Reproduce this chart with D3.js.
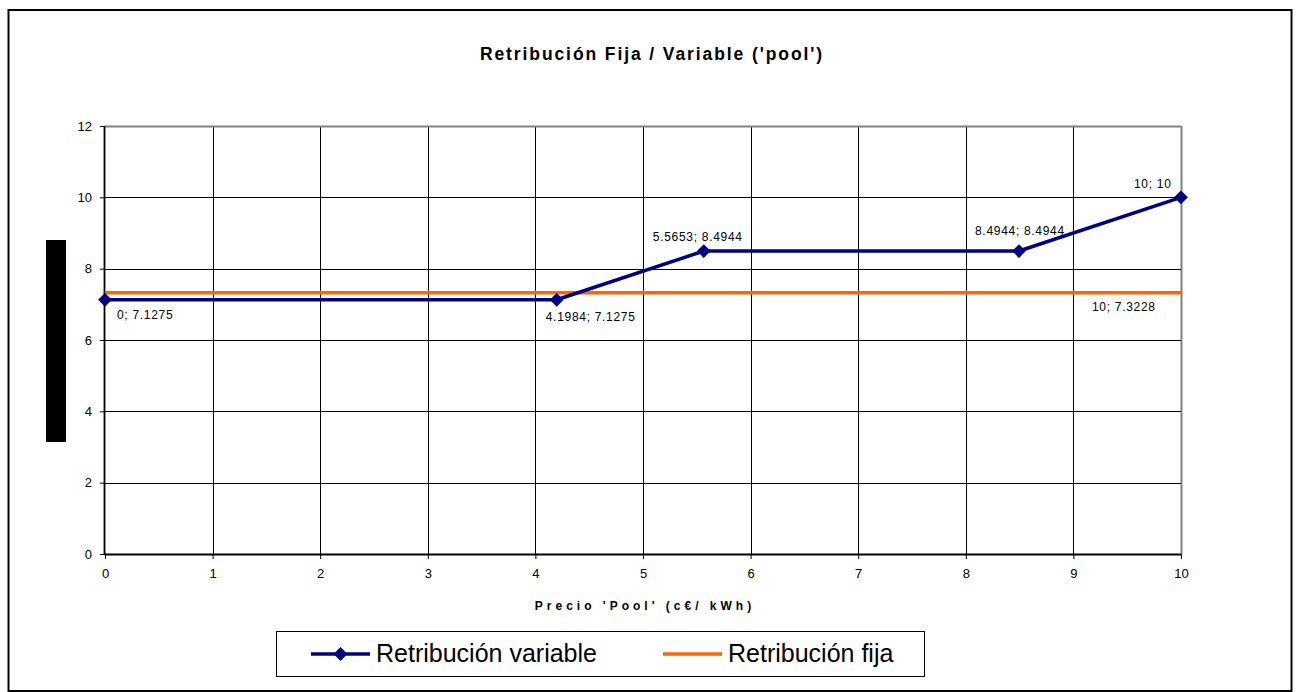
<!DOCTYPE html>
<html>
<head>
<meta charset="utf-8">
<script src="https://cdn.jsdelivr.net/npm/d3@7"></script>
<style>
  html, body { margin: 0; padding: 0; background: #fff; }
  svg { display: block; }
  text { font-family: "Liberation Sans", Arial, sans-serif; fill: #000; }
</style>
</head>
<body>
<svg id="chart" width="1298" height="692"></svg>
<script>
// ---- data ----
const chartTitle = "Retribución Fija / Variable ('pool')";
const xAxisTitle = "Precio 'Pool' (c€/ kWh)";
const seriesNames = ["Retribución variable", "Retribución fija"];
const variableX = [0, 4.1984, 5.5653, 8.4944, 10];
const variableY = [7.1275, 7.1275, 8.4944, 8.4944, 10];
const fixedX = [0, 10];
const fixedY = [7.3228, 7.3228];
const xTicks = [0, 1, 2, 3, 4, 5, 6, 7, 8, 9, 10];
const yTicks = [0, 2, 4, 6, 8, 10, 12];

// ---- label placement (pixel offsets from the point, not data) ----
const variableLabelOffsets = [[12, 19], [-11, 21], [-51, -10], [-44, -16], [-47, -9]];
const fixedLabelOffsets = [null, [-89, 18]];

const navy = "#000080", orange = "#FF6600";
const svg = d3.select("#chart");

// outer frame
svg.append("rect").attr("x", 8.5).attr("y", 10).attr("width", 1283).attr("height", 681)
  .attr("fill", "#fff").attr("stroke", "#000").attr("stroke-width", 2);

const x = d3.scaleLinear().domain([0, 10]).range([105, 1181]);
const y = d3.scaleLinear().domain([0, 12]).range([554, 126]);

// title
svg.append("text").attr("x", 652).attr("y", 60).attr("text-anchor", "middle")
  .attr("font-size", 17.5).attr("font-weight", "bold").attr("letter-spacing", "1.9px")
  .text(chartTitle);

// grid
const grid = svg.append("g");
grid.selectAll("line.v").data(xTicks.filter(d => d > 0)).join("line")
  .attr("x1", d => Math.round(x(d)) + 0.5).attr("x2", d => Math.round(x(d)) + 0.5)
  .attr("y1", y(12)).attr("y2", y(0))
  .attr("stroke", d => d === 10 ? "#808080" : "#000").attr("stroke-width", d => d === 10 ? 2 : 1);
grid.selectAll("line.h").data(yTicks.filter(d => d > 0)).join("line")
  .attr("y1", d => Math.round(y(d)) + 0.5).attr("y2", d => Math.round(y(d)) + 0.5)
  .attr("x1", x(0)).attr("x2", x(10))
  .attr("stroke", d => d === 12 ? "#808080" : "#000").attr("stroke-width", d => d === 12 ? 2 : 1);

// axes
const yAxis = svg.append("g").attr("transform", `translate(${x(0)},0)`)
  .call(d3.axisLeft(y).tickValues(yTicks).tickSize(5).tickPadding(8).tickFormat(d3.format("d")));
const xAxis = svg.append("g").attr("transform", `translate(0,${y(0)})`)
  .call(d3.axisBottom(x).tickValues(xTicks).tickSize(5).tickPadding(10).tickFormat(d3.format("d")));
[xAxis, yAxis].forEach(g => {
  g.select(".domain").attr("stroke", "#000").attr("stroke-width", 1.8);
  g.selectAll(".tick line").attr("stroke", "#000");
  g.selectAll(".tick text").attr("font-size", 13).attr("font-family", '"Liberation Sans", Arial, sans-serif').attr("fill", "#000");
});
xAxis.select(".domain").attr("d", `M${x(0)},0.5H${x(10)}`);
yAxis.select(".domain").attr("d", `M-0.5,${y(0)}V${y(12)}`);

// y axis title block (rendered as a black bar in the reference)
svg.append("rect").attr("x", 46).attr("y", 240).attr("width", 20).attr("height", 202).attr("fill", "#000");

// x axis title
svg.append("text").attr("x", 645).attr("y", 610).attr("text-anchor", "middle")
  .attr("font-size", 12).attr("font-weight", "bold").attr("letter-spacing", "4px")
  .text(xAxisTitle);

// series
const line = d3.line().x(d => x(d[0])).y(d => y(d[1]));
const fixedPts = fixedX.map((v, i) => [v, fixedY[i]]);
const varPts = variableX.map((v, i) => [v, variableY[i]]);

svg.append("path").datum(fixedPts).attr("d", line).attr("fill", "none")
  .attr("stroke", orange).attr("stroke-width", 3.5);
svg.append("path").datum(varPts).attr("d", line).attr("fill", "none")
  .attr("stroke", navy).attr("stroke-width", 3.5).attr("stroke-linejoin", "round");

const diamond = d3.symbol(d3.symbolSquare, 95);
svg.selectAll("path.mk").data(varPts).join("path").attr("class", "mk")
  .attr("d", diamond).attr("fill", navy)
  .attr("transform", d => `translate(${x(d[0])},${y(d[1])}) rotate(45)`);

// data labels
const lbl = svg.append("g").attr("font-size", 12).attr("letter-spacing", "0.7px");
varPts.forEach((d, i) => {
  const o = variableLabelOffsets[i];
  lbl.append("text").attr("x", x(d[0]) + o[0]).attr("y", y(d[1]) + o[1]).text(`${d[0]}; ${d[1]}`);
});
fixedPts.forEach((d, i) => {
  const o = fixedLabelOffsets[i];
  if (!o) return;
  lbl.append("text").attr("x", x(d[0]) + o[0]).attr("y", y(d[1]) + o[1]).text(`${d[0]}; ${d[1]}`);
});

// legend
const lg = svg.append("g");
lg.append("rect").attr("x", 276.5).attr("y", 631.5).attr("width", 648).attr("height", 45)
  .attr("fill", "#fff").attr("stroke", "#000").attr("stroke-width", 1);
const legendItems = [
  { name: seriesNames[0], color: navy, x0: 311, marker: true },
  { name: seriesNames[1], color: orange, x0: 663, marker: false }
];
legendItems.forEach(it => {
  lg.append("line").attr("x1", it.x0).attr("x2", it.x0 + 59).attr("y1", 654).attr("y2", 654)
    .attr("stroke", it.color).attr("stroke-width", 3.5);
  if (it.marker) lg.append("path").attr("d", diamond).attr("fill", it.color)
    .attr("transform", `translate(${it.x0 + 29.5},654) rotate(45)`);
  lg.append("text").attr("x", it.x0 + 65).attr("y", 662).attr("font-size", 25).text(it.name);
});
</script>
</body>
</html>
